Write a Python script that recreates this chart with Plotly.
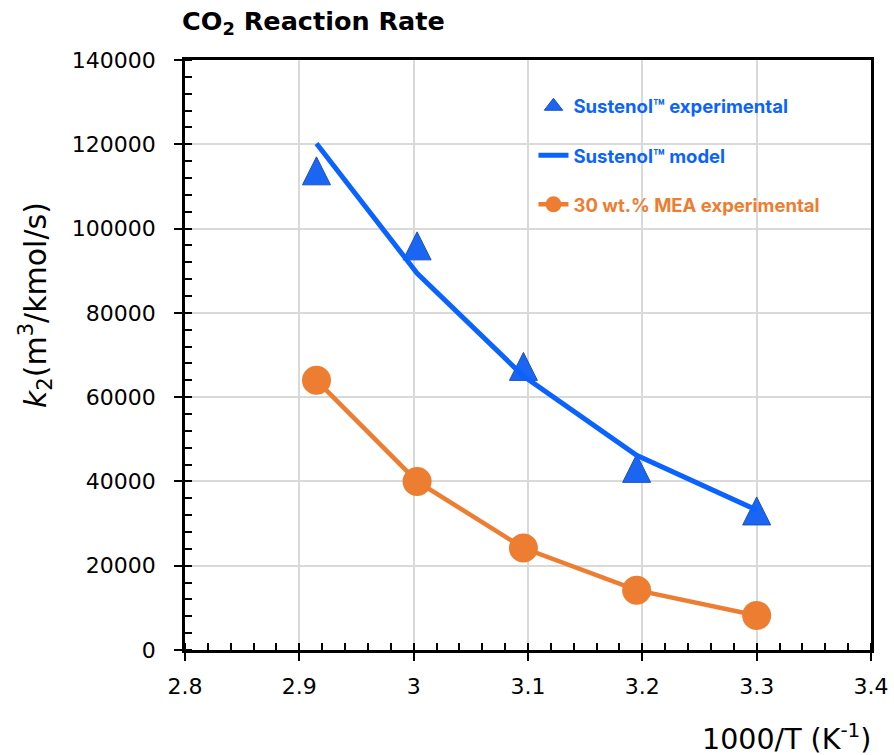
import plotly.graph_objects as go

# ---- data ----
inv_T = [2.915, 3.003, 3.096, 3.195, 3.300]
sustenol_exp = [113700, 95900, 67300, 43100, 33000]
sustenol_model = [120200, 89400, 65000, 46200, 33200]
mea_exp = [64000, 40000, 24200, 14200, 8200]

x_ticks = [2.8, 2.9, 3.0, 3.1, 3.2, 3.3, 3.4]
x_tick_text = ["2.8", "2.9", "3", "3.1", "3.2", "3.3", "3.4"]
y_ticks = [0, 20000, 40000, 60000, 80000, 100000, 120000, 140000]
y_tick_text = [str(v) for v in y_ticks]

BLUE = "#0b63ff"
ORANGE = "#ED7D31"
TRI_FILL = "#1a66f2"
TRI_EDGE = "#1d4fc4"
AXFONT = "DejaVu Sans"


def colored(label, color):
    return '<b><span style="color:' + color + '">' + label + '</span></b>'


fig = go.Figure()

# legend entry for the triangle series
fig.add_trace(go.Scatter(
    x=[None], y=[None], mode="markers", legendgroup="a",
    name=colored("Sustenol™ experimental", BLUE),
    marker=dict(symbol="triangle-up", size=16, color=TRI_FILL,
                line=dict(color=TRI_EDGE, width=1)),
))
# triangle markers (taller triangle centred on the data point)
fig.add_trace(go.Scatter(
    x=inv_T, y=sustenol_exp, mode="markers", legendgroup="a", showlegend=False,
    name="Sustenol™ experimental",
    marker=dict(symbol="arrow-down", angle=180, standoff=14, size=28,
                color=TRI_FILL, line=dict(color=TRI_EDGE, width=1)),
))
fig.add_trace(go.Scatter(
    x=inv_T, y=sustenol_model, mode="lines", legendgroup="b",
    name=colored("Sustenol™ model", BLUE),
    line=dict(color=BLUE, width=5),
))
fig.add_trace(go.Scatter(
    x=inv_T, y=mea_exp, mode="lines+markers", legendgroup="c",
    name=colored("30 wt.% MEA experimental", ORANGE),
    line=dict(color=ORANGE, width=4.5),
    marker=dict(symbol="circle", size=29, color=ORANGE),
))

fig.update_layout(
    width=894, height=755,
    margin=dict(l=185, r=23, t=60, b=105),
    paper_bgcolor="white", plot_bgcolor="white",
    showlegend=True,
    legend=dict(
        x=0.508, y=0.953, xanchor="left", yanchor="top",
        bgcolor="rgba(255,255,255,0)",
        font=dict(family="Inter", size=18.5, color="black"),
        tracegroupgap=22,
        itemsizing="trace",
    ),
    shapes=[dict(type="rect", xref="paper", yref="paper",
                 x0=0.468, x1=0.944, y0=0.705, y1=0.962,
                 fillcolor="white", line=dict(width=0), layer="between")],
    xaxis=dict(
        range=[2.8, 3.4], tickvals=x_ticks, ticktext=x_tick_text,
        showline=True, linecolor="black", linewidth=2.5, mirror=True,
        ticks="outside", ticklen=8, tickwidth=2, tickcolor="black",
        minor=dict(ticks="inside", ticklen=7, tickwidth=1.5, tickcolor="black",
                   dtick=0.02, tick0=2.8, showgrid=False),
        showgrid=True, gridcolor="#d9d9d9", gridwidth=1.8,
        zeroline=False, automargin=False,
        tickfont=dict(family=AXFONT, size=22, color="black"),
        ticklabelstandoff=7,
    ),
    yaxis=dict(
        range=[0, 140000], tickvals=y_ticks, ticktext=y_tick_text,
        showline=True, linecolor="black", linewidth=2.5, mirror=True,
        ticks="outside", ticklen=8, tickwidth=2, tickcolor="black",
        minor=dict(ticks="inside", ticklen=7, tickwidth=1.5, tickcolor="black",
                   dtick=4000, tick0=0, showgrid=False),
        showgrid=True, gridcolor="#d9d9d9", gridwidth=1.8,
        zeroline=False, automargin=False,
        tickfont=dict(family=AXFONT, size=22, color="black"),
        ticklabelstandoff=14,
    ),
    xaxis2=dict(
        range=[2.8, 3.4], overlaying="x", anchor="y", side="bottom",
        tickvals=x_ticks, ticks="inside", ticklen=9, tickwidth=2, tickcolor="black",
        showticklabels=False, showgrid=False, zeroline=False, showline=False,
        automargin=False,
    ),
    yaxis2=dict(
        range=[0, 140000], overlaying="y", anchor="x", side="left",
        tickvals=y_ticks, ticks="inside", ticklen=8, tickwidth=2, tickcolor="black",
        showticklabels=False, showgrid=False, zeroline=False, showline=False,
        automargin=False,
    ),
)

# titles
fig.add_annotation(
    text="<b>CO<sub>2</sub> Reaction Rate</b>", xref="paper", yref="paper",
    x=-0.008, y=1 + 37 / 590, xanchor="left", yanchor="middle", showarrow=False,
    font=dict(family="DejaVu Sans", size=25.5, color="black"),
)
fig.add_annotation(
    text="<i>k</i><sub>2</sub>(m<sup>3</sup>/kmol/s)", xref="paper", yref="paper",
    x=-150 / 686, y=1 - 245 / 590, xanchor="center", yanchor="middle",
    textangle=-90, showarrow=False,
    font=dict(family=AXFONT, size=30, color="black"),
)
fig.add_annotation(
    text="1000/T (K<sup>-1</sup>)", xref="paper", yref="paper",
    x=1.003, y=-87 / 590, xanchor="right", yanchor="middle", showarrow=False,
    font=dict(family=AXFONT, size=28.5, color="black"),
)

fig.write_html("out.html")
